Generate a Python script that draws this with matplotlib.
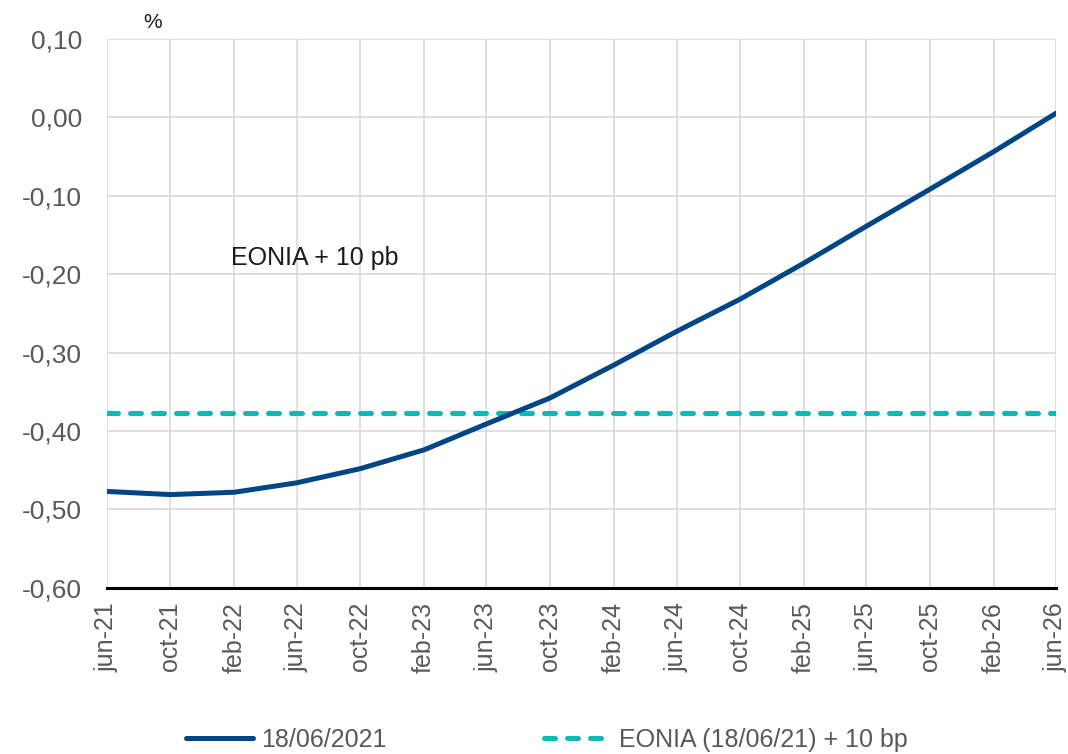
import matplotlib
matplotlib.use("Agg")
import matplotlib.pyplot as plt
import pandas as pd

# curve, one value every 4 months (jun-21 .. jun-26)
fechas = pd.date_range("2021-06-01", "2026-06-01", freq="4MS")
etiquetas = ["jun-21", "oct-21", "feb-22", "jun-22", "oct-22", "feb-23",
             "jun-23", "oct-23", "feb-24", "jun-24", "oct-24", "feb-25",
             "jun-25", "oct-25", "feb-26", "jun-26"]
curva_180621 = [-0.477, -0.481, -0.478, -0.466, -0.448, -0.424, -0.391,
                -0.358, -0.316, -0.273, -0.232, -0.186, -0.139, -0.092,
                -0.044, 0.005]
eonia_10bp = -0.377

azul = "#004586"
turquesa = "#0BBAB4"
gris = "#595959"

plt.rcParams["font.family"] = ["Liberation Sans", "DejaVu Sans"]

fig = plt.figure(figsize=(10.68, 7.54), dpi=100)
ax = fig.add_axes([0.1002, 0.2202, 0.8886, 0.7285])

ax.plot(fechas, curva_180621, color=azul, lw=3.6, solid_capstyle="round",
        solid_joinstyle="round", label="18/06/2021", zorder=3)
ax.plot([fechas[0], fechas[-1]], [eonia_10bp, eonia_10bp], color=turquesa,
        lw=3.6, dashes=(2.2, 2.4), dash_capstyle="round",
        label="EONIA (18/06/21) + 10 bp", zorder=2)

ax.set_xlim(fechas[0], fechas[-1])
ax.set_ylim(-0.60, 0.10)
ax.set_yticks([0.10, 0.0, -0.10, -0.20, -0.30, -0.40, -0.50, -0.60])
ax.set_yticklabels(["0,10", "0,00", "-0,10", "-0,20", "-0,30", "-0,40",
                    "-0,50", "-0,60"])
ax.set_xticks(fechas)
ax.set_xticklabels(etiquetas, rotation=90)
ax.tick_params(axis="both", length=0, labelsize=18, labelcolor=gris)
ax.tick_params(axis="y", pad=18, labelsize=19)
ax.tick_params(axis="x", pad=10)

ax.grid(True, color="#D9D9D9", lw=1.2)
ax.set_axisbelow(True)
for s in ["top", "right", "left"]:
    ax.spines[s].set_visible(False)
ax.spines["bottom"].set_linewidth(2.2)
ax.spines["bottom"].set_color("black")
ax.spines["bottom"].set_zorder(4)

ax.text(pd.Timestamp("2022-01-25"), -0.18, "EONIA + 10 pb", fontsize=18,
        color="#1a1a1a", va="center", ha="left")
fig.text(153 / 1068, 1 - 22 / 754, "%", fontsize=15, color="#1a1a1a",
         ha="center", va="center")

leg = fig.legend(loc="center", bbox_to_anchor=(0.5117, 1 - 740 / 754), ncol=2,
                 frameon=False, fontsize=18, handlelength=2.7,
                 handletextpad=0.3, columnspacing=6.3)
for t in leg.get_texts():
    t.set_color(gris)

fig.savefig("out.png", dpi=100)
